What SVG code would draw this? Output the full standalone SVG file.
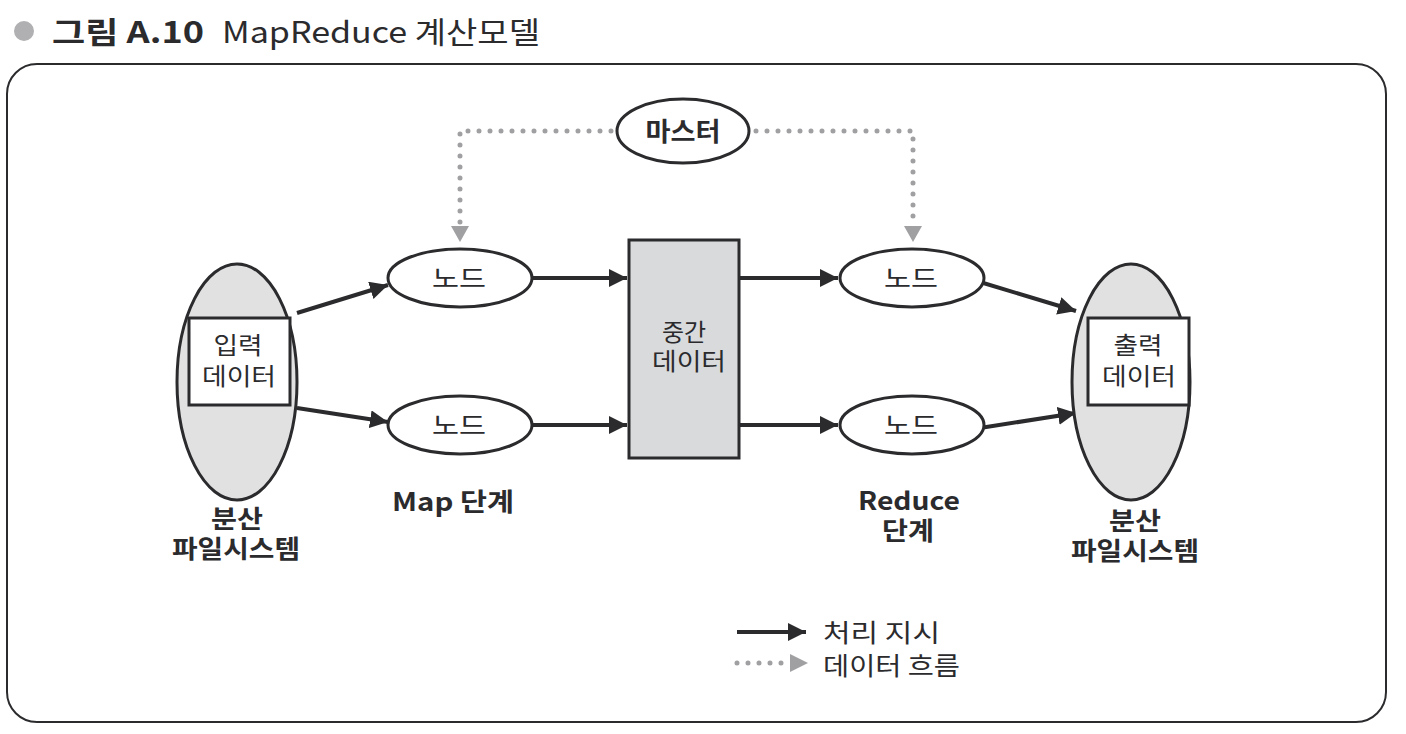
<svg xmlns="http://www.w3.org/2000/svg" width="1406" height="734" viewBox="0 0 1406 734">
<style>
text{font-family:"Noto Sans CJK KR","Noto Sans",sans-serif;fill:#2b2b2e}
.n{fill:#fff;stroke:#2b2b2e;stroke-width:3}
.fs{fill:#e1e1e2;stroke:#2b2b2e;stroke-width:3}
.lbl{font-size:24px;text-anchor:middle}
.b{font-weight:bold;font-size:25px;text-anchor:middle}
.flow{stroke:#2b2b2e;stroke-width:4;fill:none;marker-end:url(#ah)}
.dot{stroke:#a0a0a3;stroke-width:5;fill:none;stroke-linecap:round;stroke-dasharray:0 11}
</style>
<defs>
<marker id="ah" markerUnits="userSpaceOnUse" markerWidth="20" markerHeight="18" refX="18" refY="9" orient="auto"><path d="M0,0 L18,9 L0,18 z" fill="#2b2b2e"/></marker>
</defs>
<rect width="1406" height="734" fill="#fff"/>
<g id="title">
<circle cx="24" cy="31" r="10" fill="#b0b0b2"/>
<text x="52" y="43" style="font-size:30px;font-weight:bold" textLength="152" lengthAdjust="spacingAndGlyphs">그림 A.10</text>
<text x="222" y="43" style="font-size:30px" textLength="318" lengthAdjust="spacingAndGlyphs">MapReduce 계산모델</text>
</g>
<rect x="7" y="64" width="1379" height="658" rx="30" fill="none" stroke="#2b2b2e" stroke-width="2"/>
<g id="connectors">
<path class="dot" d="M611,131 H460 V226"/>
<path class="dot" d="M756,131 H913 V226"/>
<path d="M451,226 L469,226 L460,242 z" fill="#a0a0a3"/>
<path d="M904,226 L922,226 L913,242 z" fill="#a0a0a3"/>
<path class="flow" d="M297,313 L388,285"/>
<path class="flow" d="M297,408 L388,422"/>
<path class="flow" d="M532,278 L627,278"/>
<path class="flow" d="M532,425 L627,425"/>
<path class="flow" d="M740,278 L838,278"/>
<path class="flow" d="M740,425 L838,425"/>
<path class="flow" d="M980,282 L1076,311"/>
<path class="flow" d="M980,428 L1076,413"/>
</g>
<g id="master"><ellipse class="n" cx="683" cy="131" rx="66" ry="32"/><text class="b" x="683" y="141" style="font-size:26px" textLength="75" lengthAdjust="spacingAndGlyphs">마스터</text></g>
<g id="map1"><ellipse class="n" cx="460" cy="278" rx="72" ry="29"/><text class="lbl" x="459" y="287" textLength="54" lengthAdjust="spacingAndGlyphs">노드</text></g>
<g id="map2"><ellipse class="n" cx="460" cy="425" rx="72" ry="29"/><text class="lbl" x="459" y="434" textLength="54" lengthAdjust="spacingAndGlyphs">노드</text></g>
<g id="red1"><ellipse class="n" cx="912" cy="278" rx="72" ry="29"/><text class="lbl" x="911" y="287" textLength="54" lengthAdjust="spacingAndGlyphs">노드</text></g>
<g id="red2"><ellipse class="n" cx="912" cy="425" rx="72" ry="29"/><text class="lbl" x="911" y="434" textLength="54" lengthAdjust="spacingAndGlyphs">노드</text></g>
<g id="mid"><rect x="629" y="240" width="110" height="218" fill="#d9dadb" stroke="#2b2b2e" stroke-width="3"/><text class="lbl" x="684" y="341">중간</text><text class="lbl" x="689" y="370" textLength="74" lengthAdjust="spacingAndGlyphs">데이터</text></g>
<g id="fsin"><ellipse class="fs" cx="237" cy="382" rx="60" ry="118"/><rect x="189" y="318" width="101" height="87" fill="#fff" stroke="#2b2b2e" stroke-width="3"/><text class="lbl" x="238" y="354" textLength="49" lengthAdjust="spacingAndGlyphs">입력</text><text class="lbl" x="239" y="385" textLength="74" lengthAdjust="spacingAndGlyphs">데이터</text></g>
<g id="fsout"><ellipse class="fs" cx="1131" cy="382" rx="59" ry="118"/><rect x="1088" y="318" width="101" height="87" fill="#fff" stroke="#2b2b2e" stroke-width="3"/><text class="lbl" x="1138" y="354" textLength="49" lengthAdjust="spacingAndGlyphs">출력</text><text class="lbl" x="1139" y="385" textLength="74" lengthAdjust="spacingAndGlyphs">데이터</text></g>
<g id="labels">
<text class="b" x="453" y="511" textLength="122" lengthAdjust="spacingAndGlyphs">Map 단계</text>
<text class="b" x="237" y="528" textLength="52" lengthAdjust="spacingAndGlyphs">분산</text><text class="b" x="236" y="558" textLength="128" lengthAdjust="spacingAndGlyphs">파일시스템</text>
<text class="b" x="909" y="510" textLength="102" lengthAdjust="spacingAndGlyphs">Reduce</text><text class="b" x="908" y="540" textLength="52" lengthAdjust="spacingAndGlyphs">단계</text>
<text class="b" x="1135" y="530" textLength="52" lengthAdjust="spacingAndGlyphs">분산</text><text class="b" x="1135" y="560" textLength="128" lengthAdjust="spacingAndGlyphs">파일시스템</text>
</g>
<g id="legend">
<path class="flow" d="M737,632 L806,632"/>
<text x="823" y="642" style="font-size:25px" textLength="117" lengthAdjust="spacingAndGlyphs">처리 지시</text>
<path class="dot" d="M737,663 L788,663"/>
<path d="M790,654 L808,663 L790,672 z" fill="#a0a0a3"/>
<text x="823" y="675" style="font-size:25px" textLength="137" lengthAdjust="spacingAndGlyphs">데이터 흐름</text>
</g>
</svg>
